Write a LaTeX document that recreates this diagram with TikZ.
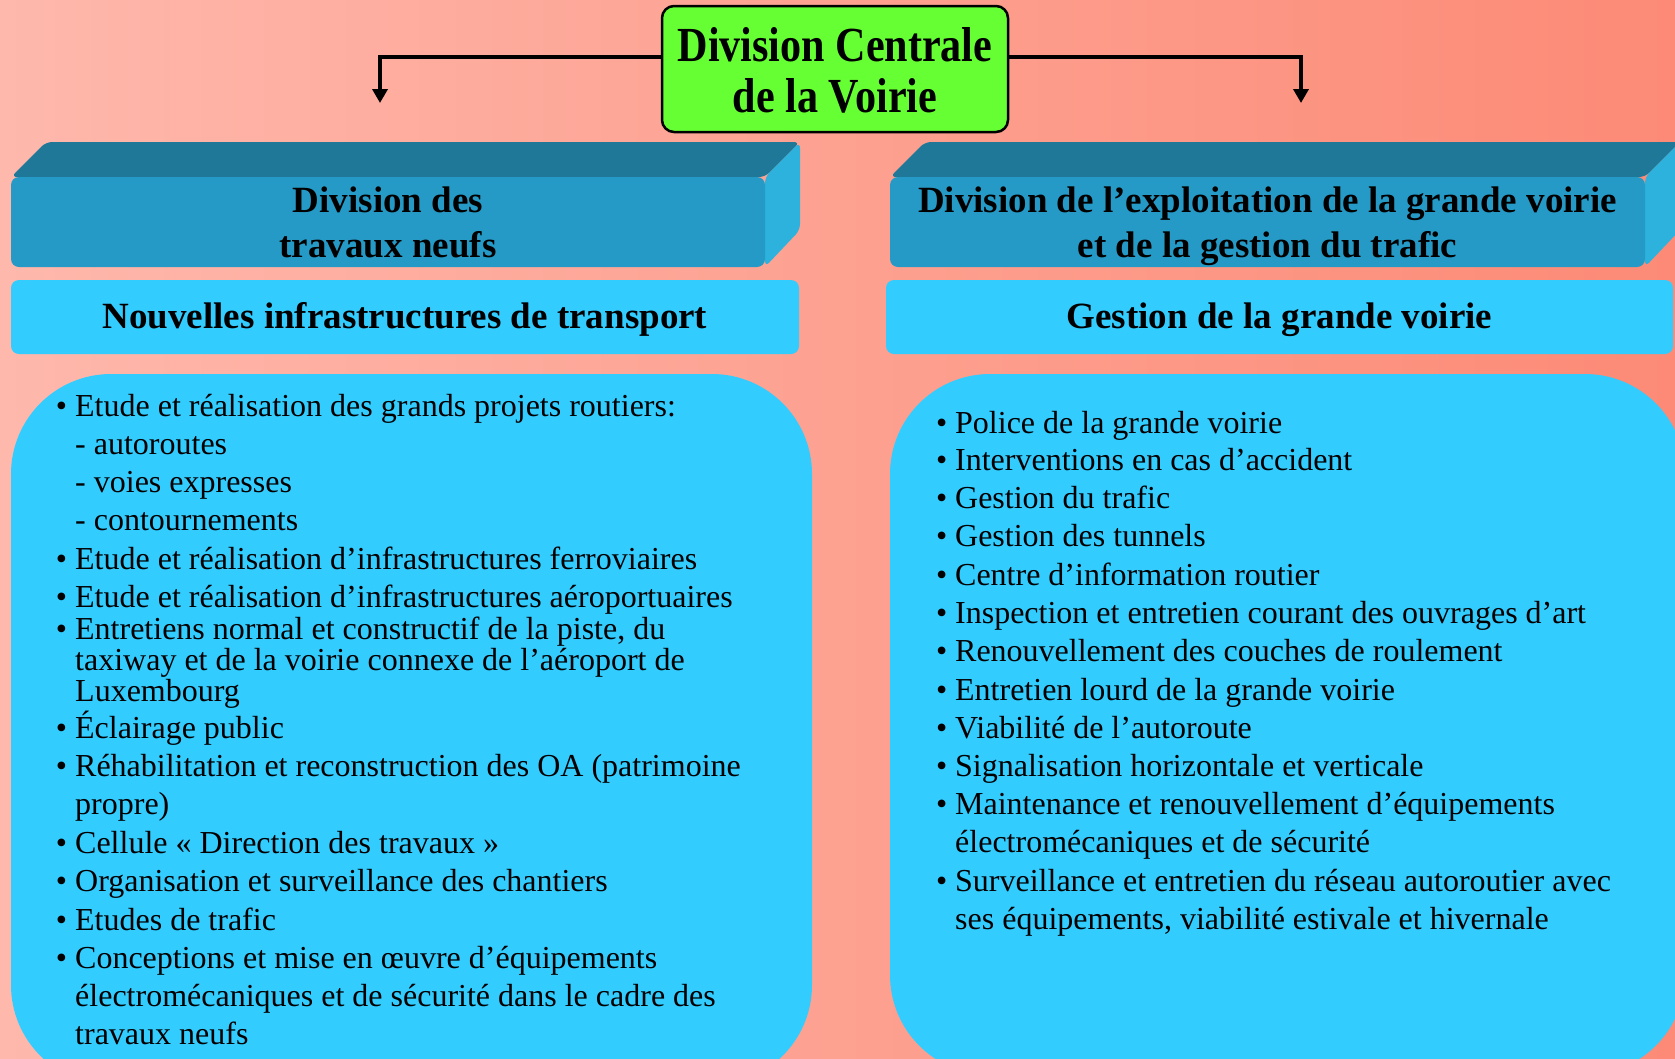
\documentclass[tikz,border=0pt]{standalone}
\usepackage{fontspec}
\setmainfont{Liberation Serif}
\newfontfamily\titlefont[FakeStretch=0.86]{Liberation Serif}
\usetikzlibrary{arrows.meta}
\definecolor{bgL}{RGB}{254,184,172}
\definecolor{bgR}{RGB}{252,138,118}
\definecolor{sky}{RGB}{51,204,255}
\definecolor{hfront}{RGB}{38,154,198}
\definecolor{htop}{RGB}{31,120,152}
\definecolor{hside}{RGB}{45,178,222}
\definecolor{tgreen}{RGB}{102,255,51}
\newcommand\mybul{\llap{\textbullet\ }}
\newcommand\itemrows[1]{\begin{tabular}[t]{@{}l@{}}#1\end{tabular}}
\newcommand\crows[1]{\begin{tabular}[t]{@{}c@{}}#1\end{tabular}}
\begin{document}
\begin{tikzpicture}[x=1pt,y=-1pt,
  body/.style={inner sep=0pt, anchor=base west, font=\fontsize{32}{38.3}\selectfont},
  tightbody/.style={inner sep=0pt, anchor=base west, font=\fontsize{32}{30.5}\selectfont},
  titlebox/.style={draw=black, line width=2.5pt, fill=tgreen, rounded corners=12pt,
    inner sep=0pt, minimum width=346pt, minimum height=126pt,
    text height=38pt, text depth=54pt,
    font=\titlefont\bfseries\fontsize{49}{51}\selectfont},
  frontbox/.style={fill=hfront, rounded corners=8pt, inner sep=0pt,
    minimum height=90pt, text height=35pt, text depth=55pt,
    font=\bfseries\fontsize{37}{45}\selectfont},
  subbox/.style={fill=sky, rounded corners=8pt, inner sep=0pt,
    minimum height=74pt, text height=26pt, text depth=4pt,
    font=\bfseries\fontsize{37}{45}\selectfont},
  contentbox/.style={fill=sky, rounded corners=100pt, inner sep=0pt},
  conn/.style={line width=4.5pt, -{Triangle[width=15pt,length=14pt]}}
]
\useasboundingbox (0,0) rectangle (1675,1058);
\clip (0,0) rectangle (1675,1058);
\shade[left color=bgL, right color=bgR] (0,0) rectangle (1675,1058);

% top node
\node[titlebox] (top) at (835,69) {\crows{Division Centrale\\de la Voirie}};
\coordinate (arrL) at (380,103);
\coordinate (arrR) at (1301,103);
\draw[conn] ([yshift=12pt]top.west) -| (arrL);
\draw[conn] ([yshift=12pt]top.east) -| (arrR);

% left 3D header
\fill[htop, rounded corners=6pt] (11,177) -- (46,142) -- (800,142) -- (765,177) -- cycle;
\fill[hside, rounded corners=6pt] (765,177) -- (800,142) -- (800,230) -- (765,267) -- cycle;
\node[frontbox, minimum width=754pt] (hL) at (388,222) {\crows{Division des\\travaux neufs}};

% right 3D header
\fill[htop, rounded corners=6pt] (890,177) -- (925,142) -- (1680,142) -- (1645,177) -- cycle;
\fill[hside, rounded corners=6pt] (1645,177) -- (1680,142) -- (1680,230) -- (1645,267) -- cycle;
\node[frontbox, minimum width=755pt] (hR) at (1267.5,222) {\crows{Division de l’exploitation de la grande voirie\\et de la gestion du trafic}};

% subtitles
\node[subbox, minimum width=788pt] (sL) at (405,317) {Nouvelles infrastructures de transport};
\node[subbox, minimum width=787pt] (sR) at (1279.5,317) {Gestion de la grande voirie};

% content boxes
\node[contentbox, minimum width=801pt, minimum height=711pt] (cL) at (411.5,729.5) {};
\node[contentbox, minimum width=795pt, minimum height=701pt] (cR) at (1287.5,724.5) {};

% left items
\node[body] (l1) at (75,416) {\itemrows{\mybul Etude et réalisation des grands projets routiers:\\- autoroutes\\- voies expresses\\- contournements}};
\node[body] (l2) at (75,569) {\itemrows{\mybul Etude et réalisation d’infrastructures ferroviaires}};
\node[body] (l3) at (75,607) {\itemrows{\mybul Etude et réalisation d’infrastructures aéroportuaires}};
\node[tightbody] (l4) at (75,639) {\itemrows{\mybul Entretiens normal et constructif de la piste, du\\taxiway et de la voirie connexe de l’aéroport de\\Luxembourg}};
\node[body] (l5) at (75,738) {\itemrows{\mybul Éclairage public}};
\node[body] (l6) at (75,776) {\itemrows{\mybul Réhabilitation et reconstruction des OA (patrimoine\\propre)}};
\node[body] (l7) at (75,853) {\itemrows{\mybul Cellule « Direction des travaux »}};
\node[body] (l8) at (75,891) {\itemrows{\mybul Organisation et surveillance des chantiers}};
\node[body] (l9) at (75,930) {\itemrows{\mybul Etudes de trafic}};
\node[body] (l10) at (75,968) {\itemrows{\mybul Conceptions et mise en œuvre d’équipements\\électromécaniques et de sécurité dans le cadre des\\travaux neufs}};

% right items
\node[body] (r1) at (955,433) {\itemrows{\mybul Police de la grande voirie}};
\node[body] (r2) at (955,470.5) {\itemrows{\mybul Interventions en cas d’accident}};
\node[body] (r3) at (955,508) {\itemrows{\mybul Gestion du trafic}};
\node[body] (r4) at (955,546) {\itemrows{\mybul Gestion des tunnels}};
\node[body] (r5) at (955,585) {\itemrows{\mybul Centre d’information routier}};
\node[body] (r6) at (955,623) {\itemrows{\mybul Inspection et entretien courant des ouvrages d’art}};
\node[body] (r7) at (955,661) {\itemrows{\mybul Renouvellement des couches de roulement}};
\node[body] (r8) at (955,700) {\itemrows{\mybul Entretien lourd de la grande voirie}};
\node[body] (r9) at (955,738) {\itemrows{\mybul Viabilité de l’autoroute}};
\node[body] (r10) at (955,776) {\itemrows{\mybul Signalisation horizontale et verticale}};
\node[body] (r11) at (955,814.5) {\itemrows{\mybul Maintenance et renouvellement d’équipements\\électromécaniques et de sécurité}};
\node[body] (r12) at (955,891) {\itemrows{\mybul Surveillance et entretien du réseau autoroutier avec\\ses équipements, viabilité estivale et hivernale}};
\end{tikzpicture}
\end{document}
